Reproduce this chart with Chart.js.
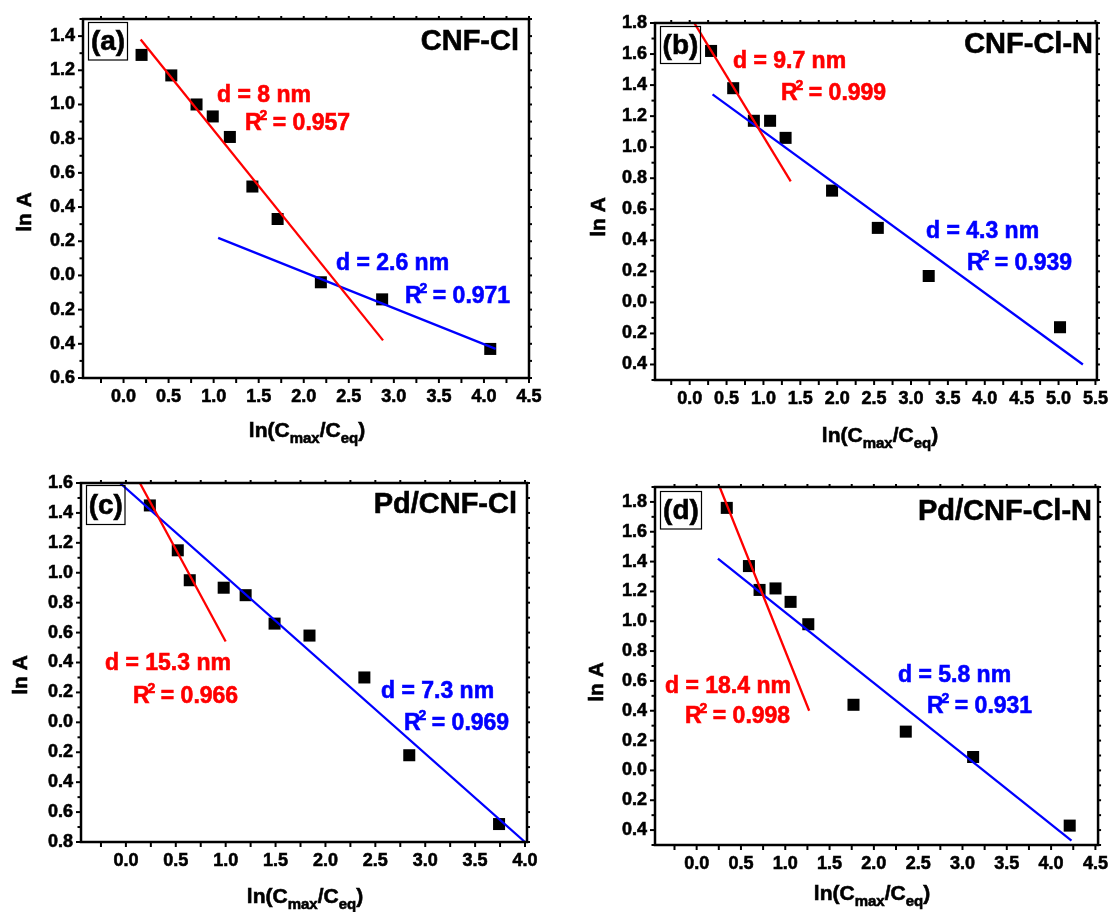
<!DOCTYPE html>
<html>
<head>
<meta charset="utf-8">
<script src="https://cdn.jsdelivr.net/npm/chart.js@4"></script>
<style>
  body { margin: 0; background: #fff; }
  #wrap { position: relative; width: 1116px; height: 912px; overflow: hidden; }
  canvas { position: absolute; left: 0; top: 0; }
</style>
</head>
<body>
<div id="wrap">
  <canvas id="ca" width="1116" height="912"></canvas>
  <canvas id="cb" width="1116" height="912"></canvas>
  <canvas id="cc" width="1116" height="912"></canvas>
  <canvas id="cd" width="1116" height="912"></canvas>
</div>
<script>
// (a) CNF-Cl
const aX = [0.20, 0.53, 0.81, 0.99, 1.18, 1.43, 1.71, 2.19, 2.87, 4.07];
const aY = [1.29, 1.17, 1.00, 0.93, 0.81, 0.52, 0.33, -0.04, -0.14, -0.43];
const aRedX = [0.19, 2.88];
const aRedY = [1.38, -0.38];
const aBlueX = [1.05, 4.13];
const aBlueY = [0.22, -0.43];
const aXTicks = [0, 0.5, 1, 1.5, 2, 2.5, 3, 3.5, 4, 4.5];
const aYTicks = [-0.6, -0.4, -0.2, 0, 0.2, 0.4, 0.6, 0.8, 1.0, 1.2, 1.4];

// (b) CNF-Cl-N
const bX = [0.29, 0.59, 0.87, 1.09, 1.30, 1.93, 2.55, 3.24, 5.02];
const bY = [1.62, 1.38, 1.17, 1.17, 1.06, 0.72, 0.48, 0.17, -0.16];
const bRedX = [0.05, 1.37];
const bRedY = [1.81, 0.78];
const bBlueX = [0.31, 5.33];
const bBlueY = [1.34, -0.40];
const bXTicks = [0, 0.5, 1, 1.5, 2, 2.5, 3, 3.5, 4, 4.5, 5, 5.5];
const bYTicks = [-0.4, -0.2, 0, 0.2, 0.4, 0.6, 0.8, 1.0, 1.2, 1.4, 1.6, 1.8];

// (c) Pd/CNF-Cl
const cX = [0.24, 0.52, 0.64, 0.98, 1.20, 1.49, 1.84, 2.39, 2.84, 3.74];
const cY = [1.45, 1.15, 0.95, 0.90, 0.85, 0.66, 0.58, 0.30, -0.22, -0.68];
const cRedX = [0.14, 1.00];
const cRedY = [1.60, 0.54];
const cBlueX = [-0.06, 4.00];
const cBlueY = [1.60, -0.80];
const cXTicks = [0, 0.5, 1, 1.5, 2, 2.5, 3, 3.5, 4];
const cYTicks = [-0.8, -0.6, -0.4, -0.2, 0, 0.2, 0.4, 0.6, 0.8, 1.0, 1.2, 1.4, 1.6];

// (d) Pd/CNF-Cl-N
const dX = [0.34, 0.59, 0.71, 0.89, 1.06, 1.26, 1.77, 2.36, 3.12, 4.21];
const dY = [1.76, 1.37, 1.21, 1.22, 1.13, 0.98, 0.44, 0.26, 0.09, -0.37];
const dRedX = [0.26, 1.27];
const dRedY = [1.90, 0.40];
const dBlueX = [0.24, 4.23];
const dBlueY = [1.42, -0.47];
const dXTicks = [0, 0.5, 1, 1.5, 2, 2.5, 3, 3.5, 4, 4.5];
const dYTicks = [-0.4, -0.2, 0, 0.2, 0.4, 0.6, 0.8, 1.0, 1.2, 1.4, 1.6, 1.8];

const FONT = '"Liberation Sans", Arial, sans-serif';
const RED = '#ff0000';
const BLUE = '#0000ff';
const YW = 70;
const XH = 60;

function pairs(xs, ys) {
  return xs.map((x, i) => ({ x, y: ys[i] }));
}

function line(ctx, x1, y1, x2, y2) {
  ctx.beginPath();
  ctx.moveTo(x1, y1);
  ctx.lineTo(x2, y2);
  ctx.stroke();
}

// bold text with a thin outline so it reads as heavy as the original figure
function heavyText(ctx, text, x, y, color) {
  ctx.fillStyle = color;
  ctx.strokeStyle = color;
  ctx.lineWidth = 0.6;
  ctx.fillText(text, x, y);
  ctx.strokeText(text, x, y);
}

function drawRsq(ctx, x, y, val, color) {
  ctx.textAlign = 'left';
  ctx.textBaseline = 'alphabetic';
  ctx.font = `bold 23px ${FONT}`;
  heavyText(ctx, 'R', x, y, color);
  const wR = ctx.measureText('R').width;
  ctx.font = `bold 14px ${FONT}`;
  heavyText(ctx, '2', x + wR - 2, y - 10, color);
  const w2 = ctx.measureText('2').width;
  ctx.font = `bold 23px ${FONT}`;
  heavyText(ctx, ` = ${val}`, x + wR + w2 - 3, y, color);
}

function drawXTitle(ctx, cx, y) {
  const parts = [['ln(C', 21, 0], ['max', 15, 6], ['/C', 21, 0], ['eq', 15, 6], [')', 21, 0]];
  let total = 0;
  parts.forEach(([t, s]) => {
    ctx.font = `bold ${s}px ${FONT}`;
    total += ctx.measureText(t).width;
  });
  let x = cx - total / 2;
  ctx.textAlign = 'left';
  ctx.textBaseline = 'alphabetic';
  parts.forEach(([t, s, dy]) => {
    ctx.font = `bold ${s}px ${FONT}`;
    heavyText(ctx, t, x, y + dy, '#000');
    x += ctx.measureText(t).width;
  });
}

function makePanel(id, p) {
  const decor = {
    id: 'decor',
    afterDraw(chart) {
      const ctx = chart.ctx;
      const xs = chart.scales.x;
      const ys = chart.scales.y;
      const { left, right, top, bottom } = chart.chartArea;
      ctx.save();
      ctx.strokeStyle = '#000';
      // ticks
      ctx.lineWidth = 2;
      for (let v = Math.ceil(p.xMin / 0.25) * 0.25; v <= p.xMax + 1e-9; v += 0.25) {
        const px = xs.getPixelForValue(v);
        line(ctx, px, bottom, px, bottom + 5);
        line(ctx, px, top, px, top - 3);
      }
      for (let v = Math.ceil(p.yMin / 0.1 - 1e-9) * 0.1; v <= p.yMax + 1e-9; v += 0.1) {
        const py = ys.getPixelForValue(v);
        const major = Math.abs(v * 5 - Math.round(v * 5)) < 1e-6;
        line(ctx, left, py, left - (major ? 5 : 3.5), py);
        line(ctx, right, py, right + 3, py);
      }
      // frame
      ctx.lineWidth = 2.5;
      ctx.strokeRect(left, top, right - left, bottom - top);

      // panel letter box
      ctx.lineWidth = 1.2;
      ctx.strokeRect(p.box[0], p.box[1], p.box[2] - p.box[0], p.box[3] - p.box[1]);
      ctx.font = `bold 28px ${FONT}`;
      ctx.textAlign = 'center';
      ctx.textBaseline = 'middle';
      heavyText(ctx, p.letter, (p.box[0] + p.box[2]) / 2, (p.box[1] + p.box[3]) / 2 + 1, '#000');

      // sample name
      ctx.font = `bold 29px ${FONT}`;
      ctx.textAlign = 'right';
      ctx.textBaseline = 'alphabetic';
      heavyText(ctx, p.name, p.nameAt[0], p.nameAt[1], '#000');

      // fit annotations
      ctx.textAlign = 'left';
      ctx.font = `bold 23px ${FONT}`;
      heavyText(ctx, p.redD, p.redDAt[0], p.redDAt[1], RED);
      drawRsq(ctx, p.redRAt[0], p.redRAt[1], p.redR, RED);
      ctx.font = `bold 23px ${FONT}`;
      heavyText(ctx, p.blueD, p.blueDAt[0], p.blueDAt[1], BLUE);
      drawRsq(ctx, p.blueRAt[0], p.blueRAt[1], p.blueR, BLUE);

      // axis titles
      ctx.save();
      ctx.translate(p.yTitleAt[0], p.yTitleAt[1]);
      ctx.rotate(-Math.PI / 2);
      ctx.font = `bold 21px ${FONT}`;
      ctx.textAlign = 'center';
      ctx.textBaseline = 'middle';
      heavyText(ctx, 'ln A', 0, 0, '#000');
      ctx.restore();
      drawXTitle(ctx, p.xTitleAt[0], p.xTitleAt[1]);
      ctx.restore();
    },
  };

  const tickFont = { family: FONT, size: 18, weight: 'bold' };
  return new Chart(document.getElementById(id), {
    type: 'scatter',
    data: {
      datasets: [
        { data: pairs(p.redX, p.redY), showLine: true, borderColor: RED, borderWidth: 2.3, pointRadius: 0 },
        { data: pairs(p.blueX, p.blueY), showLine: true, borderColor: BLUE, borderWidth: 2.3, pointRadius: 0 },
        { data: pairs(p.x, p.y), pointStyle: 'rect', pointRadius: 8.5, backgroundColor: '#000', borderWidth: 0 },
      ],
    },
    options: {
      responsive: false,
      animation: false,
      devicePixelRatio: 1,
      layout: {
        padding: { left: p.area[0] - YW, top: p.area[1], right: 1116 - p.area[2], bottom: 912 - p.area[3] - XH },
      },
      plugins: { legend: { display: false }, tooltip: { enabled: false } },
      scales: {
        x: {
          type: 'linear',
          min: p.xMin,
          max: p.xMax,
          grid: { display: false, drawTicks: false },
          border: { display: false },
          ticks: {
            padding: 8,
            color: '#000',
            textStrokeColor: '#000',
            textStrokeWidth: 0.6,
            font: tickFont,
            maxRotation: 0,
            autoSkip: false,
            callback: (v) => Number(v).toFixed(1),
          },
          afterBuildTicks: (s) => { s.ticks = p.xTicks.map((v) => ({ value: v })); },
          afterFit: (s) => { s.height = XH; },
        },
        y: {
          type: 'linear',
          min: p.yMin,
          max: p.yMax,
          grid: { display: false, drawTicks: false },
          border: { display: false },
          ticks: {
            padding: 8,
            color: '#000',
            textStrokeColor: '#000',
            textStrokeWidth: 0.6,
            font: tickFont,
            autoSkip: false,
            // minus signs are missing in the original figure
            callback: (v) => Math.abs(Number(v)).toFixed(1),
          },
          afterBuildTicks: (s) => { s.ticks = p.yTicks.map((v) => ({ value: v })); },
          afterFit: (s) => { s.width = YW; },
        },
      },
    },
    plugins: [decor],
  });
}

makePanel('ca', {
  x: aX, y: aY, redX: aRedX, redY: aRedY, blueX: aBlueX, blueY: aBlueY,
  xTicks: aXTicks, yTicks: aYTicks, xMin: -0.45, xMax: 4.5, yMin: -0.6, yMax: 1.5,
  area: [83, 19, 529, 378],
  letter: '(a)', box: [88.5, 22.5, 127.5, 60],
  name: 'CNF-Cl', nameAt: [519, 50],
  redD: 'd = 8 nm', redDAt: [217, 102], redR: '0.957', redRAt: [245, 130],
  blueD: 'd = 2.6 nm', blueDAt: [336, 270], blueR: '0.971', blueRAt: [405, 303],
  yTitleAt: [25, 212], xTitleAt: [307, 437],
});

makePanel('cb', {
  x: bX, y: bY, redX: bRedX, redY: bRedY, blueX: bBlueX, blueY: bBlueY,
  xTicks: bXTicks, yTicks: bYTicks, xMin: -0.47, xMax: 5.52, yMin: -0.5, yMax: 1.8,
  area: [655, 23, 1102, 380],
  letter: '(b)', box: [660.5, 26.5, 700.5, 63.5],
  name: 'CNF-Cl-N', nameAt: [1093, 53],
  redD: 'd = 9.7 nm', redDAt: [733, 68], redR: '0.999', redRAt: [781, 100],
  blueD: 'd = 4.3 nm', blueDAt: [926, 238], blueR: '0.939', blueRAt: [967, 270],
  yTitleAt: [599, 217], xTitleAt: [880, 442],
});

makePanel('cc', {
  x: cX, y: cY, redX: cRedX, redY: cRedY, blueX: cBlueX, blueY: cBlueY,
  xTicks: cXTicks, yTicks: cYTicks, xMin: -0.45, xMax: 4.02, yMin: -0.8, yMax: 1.6,
  area: [81, 483, 527, 842],
  letter: '(c)', box: [86.5, 485.5, 125, 524.5],
  name: 'Pd/CNF-Cl', nameAt: [517, 513],
  redD: 'd = 15.3 nm', redDAt: [105, 670], redR: '0.966', redRAt: [133, 703],
  blueD: 'd = 7.3 nm', blueDAt: [381, 698], blueR: '0.969', blueRAt: [404, 730],
  yTitleAt: [21, 675], xTitleAt: [305, 903],
});

makePanel('cd', {
  x: dX, y: dY, redX: dRedX, redY: dRedY, blueX: dBlueX, blueY: dBlueY,
  xTicks: dXTicks, yTicks: dYTicks, xMin: -0.47, xMax: 4.53, yMin: -0.5, yMax: 1.9,
  area: [655, 487, 1102, 845],
  letter: '(d)', box: [660.5, 491.5, 701.5, 529],
  name: 'Pd/CNF-Cl-N', nameAt: [1092, 520],
  redD: 'd = 18.4 nm', redDAt: [665, 693], redR: '0.998', redRAt: [685, 723],
  blueD: 'd = 5.8 nm', blueDAt: [898, 682], blueR: '0.931', blueRAt: [927, 713],
  yTitleAt: [597, 682], xTitleAt: [872, 900],
});
</script>
</body>
</html>
